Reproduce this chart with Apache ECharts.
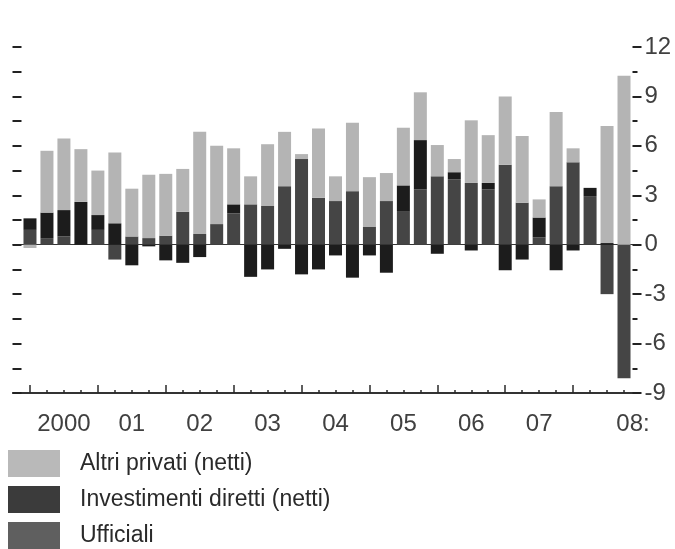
<!DOCTYPE html>
<html>
<head>
<meta charset="utf-8">
<script src="https://cdn.jsdelivr.net/npm/echarts@6/dist/echarts.min.js"></script>
<style>
  html, body { margin: 0; padding: 0; background: #fff; }
  #chart { width: 675px; height: 549px; }
</style>
</head>
<body>
<div id="chart"></div>
<script>
// Quarterly flows, 2000 Q1 - 2008 Q4 (stacked)
const categories = [];
for (let y = 2000; y <= 2008; y++) {
  for (let q = 1; q <= 4; q++) categories.push(y + ' T' + q);
}

const yearLabels = ['2000', '01', '02', '03', '04', '05', '06', '07', '08:'];

const altriPrivati = [
  -0.2, 3.75, 4.35, 3.2, 2.7, 4.3, 2.9, 3.85, 3.75, 2.6, 6.2, 4.75,
  3.4, 1.7, 3.75, 3.3, 0.3, 4.2, 1.5, 4.15, 3.0, 1.7, 3.5, 2.9,
  1.9, 0.8, 3.8, 2.9, 4.15, 4.05, 1.1, 4.5, 0.85, 0, 7.1, 10.25
];
const investimentiDiretti = [
  0.7, 1.55, 1.6, 2.6, 0.9, 1.3, -1.25, -0.1, -0.95, -1.1, -0.75, 0,
  0.55, -1.95, -1.5, -0.25, -1.8, -1.5, -0.65, -2.0, -0.65, -1.7, 1.6, 3.0,
  -0.55, 0.45, -0.35, 0.4, -1.55, -0.9, 1.2, -1.55, -0.35, 0.5, 0.1, 0
];
const ufficiali = [
  0.9, 0.4, 0.5, 0, 0.9, -0.9, 0.5, 0.4, 0.55, 2.0, 0.65, 1.25,
  1.9, 2.45, 2.35, 3.55, 5.2, 2.85, 2.65, 3.25, 1.1, 2.65, 2.0, 3.35,
  4.15, 3.95, 3.75, 3.35, 4.85, 2.55, 0.45, 3.55, 5.0, 2.95, -3.0, -8.1
];

const FONT = "'Liberation Sans', Arial, Helvetica, sans-serif";
const INK = '#2a2a2a';
const LABEL = '#404040';

const chart = echarts.init(document.getElementById('chart'), null, { renderer: 'canvas' });

const plotBox = { left: 21.5, right: 42.5, top: 47, bottom: 156 };

chart.setOption({
  animation: false,
  backgroundColor: '#ffffff',
  textStyle: { fontFamily: FONT },
  grid: [
    Object.assign({}, plotBox),                        // bars
    { left: 13, right: 36, top: 47, bottom: 156 },     // base line and zero line
    Object.assign({}, plotBox)                         // yearly ticks
  ],
  legend: {
    orient: 'vertical',
    left: 8,
    top: 450,
    padding: 0,
    itemWidth: 52,
    itemHeight: 27,
    itemGap: 9,
    icon: 'rect',
    selectedMode: false,
    textStyle: { fontSize: 23, color: INK, fontFamily: FONT, padding: [5, 0, 0, 15] },
    data: [
      { name: 'Altri privati (netti)', itemStyle: { color: '#b9b9b9' } },
      { name: 'Investimenti diretti (netti)', itemStyle: { color: '#3b3b3b' } },
      { name: 'Ufficiali', itemStyle: { color: '#5f5f5f' } }
    ]
  },
  xAxis: [
    {
      type: 'category',
      gridIndex: 0,
      data: categories,
      position: 'bottom',
      axisLine: { show: false, onZero: false },
      axisTick: {
        show: true, inside: true, alignWithLabel: true, interval: 0, length: 3,
        lineStyle: { color: INK, width: 1.5 }
      },
      axisLabel: {
        show: true,
        interval: (i) => (i % 4 === 2 && i < 32) || i === 35,
        formatter: (v, i) => {
          if (i === 35) return '{last|' + yearLabels[8] + '}';
          return yearLabels[Math.floor(i / 4)];
        },
        margin: 19,
        fontSize: 24,
        color: LABEL,
        fontFamily: FONT,
        rich: { last: { fontSize: 24, color: LABEL, fontFamily: FONT, padding: [0, 0, 0, 18] } }
      },
      splitLine: { show: false }
    },
    {
      type: 'value', gridIndex: 1, min: 0, max: 1, position: 'bottom',
      axisLine: { show: true, onZero: false, lineStyle: { color: '#333', width: 2 } },
      axisTick: { show: false }, axisLabel: { show: false }, splitLine: { show: false }
    },
    {
      type: 'value', gridIndex: 1, min: 0, max: 1, position: 'top',
      axisLine: { show: true, onZero: true, lineStyle: { color: '#333', width: 1 } },
      axisTick: { show: false }, axisLabel: { show: false }, splitLine: { show: false }
    },
    {
      type: 'category',
      gridIndex: 2,
      data: categories,
      position: 'bottom',
      axisLine: { show: false, onZero: false },
      axisTick: {
        show: true, inside: true, alignWithLabel: true,
        interval: (i) => i % 4 === 0, length: 8,
        lineStyle: { color: INK, width: 1.5 }
      },
      axisLabel: { show: false },
      splitLine: { show: false }
    }
  ],
  yAxis: [
    {
      type: 'value', gridIndex: 0, position: 'left',
      min: -9, max: 12, interval: 1.5,
      axisLine: { show: false },
      axisTick: { show: true, length: 9, lineStyle: { color: '#222', width: 2 } },
      axisLabel: { show: false },
      splitLine: { show: false }
    },
    {
      type: 'value', gridIndex: 0, position: 'right',
      min: -9, max: 12, interval: 3,
      axisLine: { show: false },
      axisTick: { show: true, length: 9, lineStyle: { color: '#222', width: 2 } },
      minorTick: { show: true, splitNumber: 2, length: 5, lineStyle: { color: '#222', width: 2 } },
      axisLabel: { show: true, margin: 12, fontSize: 24, color: LABEL, fontFamily: FONT },
      splitLine: { show: false },
      minorSplitLine: { show: false }
    },
    { type: 'value', gridIndex: 1, min: -9, max: 12, show: false },
    { type: 'value', gridIndex: 2, min: -9, max: 12, show: false }
  ],
  series: [
    {
      name: 'Ufficiali', type: 'bar', stack: 'flussi',
      xAxisIndex: 0, yAxisIndex: 0, barWidth: 13,
      itemStyle: { color: '#454545' },
      data: ufficiali
    },
    {
      name: 'Investimenti diretti (netti)', type: 'bar', stack: 'flussi',
      xAxisIndex: 0, yAxisIndex: 0, barWidth: 13,
      itemStyle: { color: '#1c1c1c' },
      data: investimentiDiretti
    },
    {
      name: 'Altri privati (netti)', type: 'bar', stack: 'flussi',
      xAxisIndex: 0, yAxisIndex: 0, barWidth: 13,
      itemStyle: { color: '#b4b4b4' },
      data: altriPrivati
    }
  ]
});
</script>
</body>
</html>
